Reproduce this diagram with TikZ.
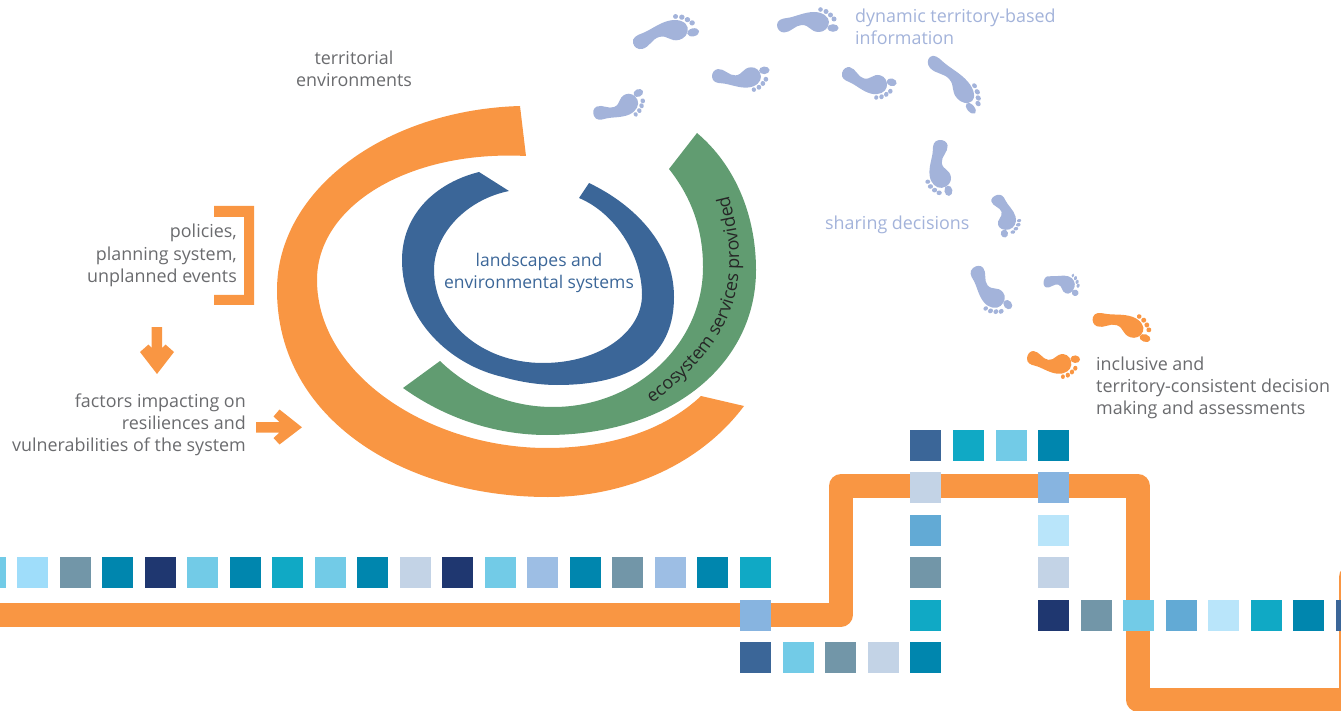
\documentclass[tikz,border=0pt]{standalone}
\usepackage{fontspec}
\setmainfont{Open Sans}
\usetikzlibrary{decorations.text}
\definecolor{ribbon}{HTML}{F99643}
\definecolor{ringgreen}{HTML}{619C71}
\definecolor{ringblue}{HTML}{3B6698}
\definecolor{footblue}{HTML}{A3B3DA}
\definecolor{greytext}{HTML}{6A6B6E}
\definecolor{tdark}{HTML}{1F3770}
\definecolor{tdeep}{HTML}{0086AE}
\definecolor{tteal}{HTML}{10A9C5}
\definecolor{tsky}{HTML}{72CBE7}
\definecolor{tpale}{HTML}{B9E5FA}
\definecolor{tbaby}{HTML}{9FDDFA}
\definecolor{tslate}{HTML}{7296A8}
\definecolor{tmist}{HTML}{C3D3E6}
\definecolor{tmid}{HTML}{62AAD5}
\definecolor{tperi}{HTML}{87B4E0}
\definecolor{tlav}{HTML}{9DBEE4}
\tikzset{
	tile/.style = {
		rectangle,
		inner sep = 0pt,
		minimum size = 31pt
	},
	caption/.style = {
		inner sep = 0pt,
		text = greytext,
		font = \fontsize{17.9}{22.3}\selectfont
	},
	pics/foot/.style = {
		code = {
			\fill (0,0) .. controls (0,-5) and (5,-6.5) .. (10,-7)
				.. controls (18,-8) and (27,-13) .. (37,-13)
				.. controls (46,-13) and (52,-8) .. (52,-3)
				.. controls (52,3) and (47,7) .. (42,7)
				.. controls (33,7) and (33,0) .. (25,0)
				.. controls (18,0) and (14,7.5) .. (7,7.5)
				.. controls (3,7.5) and (0,4) .. (0,0) -- cycle ;
			\fill (56,3) ellipse [x radius = 5.6, y radius = 3.8] ;
			\fill (43.5,-15.5) circle [radius = 2.3] ;
			\fill (49,-13.5) circle [radius = 2.5] ;
			\fill (53.5,-10) circle [radius = 2.5] ;
			\fill (57,-6) circle [radius = 2.5] ;
		}
	}
}

\begin{document}
\begin{tikzpicture}[x=1pt, y=-1pt]
    \useasboundingbox (0,0) rectangle (1341,711) ;

    % rings
    \fill [ribbon] (520,106) .. controls (385,110) and (277,190) .. (277,290)
        .. controls (277,420) and (405,497) .. (548,497)
        .. controls (625,497) and (700,465) .. (744,406) -- (701,396)
        .. controls (665,430) and (610,448) .. (547,448)
        .. controls (430,448) and (317,375) .. (317,280)
        .. controls (317,205) and (410,150) .. (526,156) -- cycle ;
    \fill [ringgreen] (697,133) .. controls (735,165) and (756,215) .. (756,270)
        .. controls (756,365) and (670,435) .. (547,435)
        .. controls (495,435) and (445,418) .. (403,388) -- (440,361)
        .. controls (470,390) and (510,407) .. (553,407)
        .. controls (635,407) and (703,345) .. (703,267)
        .. controls (703,230) and (692,198) .. (669,169) -- cycle ;
    \fill [ringblue] (479,172) .. controls (435,183) and (402,215) .. (402,260)
        .. controls (402,320) and (450,365) .. (503,377)
        .. controls (520,382) and (540,385) .. (557,385)
        .. controls (640,385) and (674,350) .. (674,297)
        .. controls (674,245) and (635,205) .. (589,183) -- (579,198)
        .. controls (615,213) and (642,255) .. (642,295)
        .. controls (642,332) and (600,363) .. (543,363)
        .. controls (480,363) and (434,320) .. (434,270)
        .. controls (434,235) and (465,200) .. (509,191) -- cycle ;
    \path [decorate, decoration = {text along path, text align = left,
        text = {|\fontsize{18}{17}\selectfont\color{black!85}|ecosystem services provided}}]
        (652,403) .. controls (705,365) and (738,320) .. (739,265)
        .. controls (740,240) and (735,220) .. (725,180) ;

    % captions
    \node [caption, align = center] (territorial) at (354,68.5) {territorial\\environments} ;
    \node [caption, align = right, anchor = east] (policies) at (237,255.5) {policies,\\planning system,\\unplanned events} ;
    \node [caption, align = right, anchor = east] (factors) at (246,425) {factors impacting on\\resiliences and\\vulnerabilities of the system} ;
    \node [caption, align = center, text = ringblue, font = \fontsize{17.5}{22.3}\selectfont] (landscapes) at (539,273) {landscapes and\\environmental systems} ;
    \node [caption, align = left, anchor = west, text = footblue] (dynamic) at (855,26.5) {dynamic territory-based\\information} ;
    \node [caption, anchor = west, text = footblue] (sharing) at (825,225) {sharing decisions} ;
    \node [caption, align = left, anchor = west] (inclusive) at (1096,388) {inclusive and\\territory-consistent decision\\making and assessments} ;

    % bracket and arrows
    \fill [ribbon] (214,206) -- (254,206) -- (254,305) -- (214,305) -- (214,295) -- (244,295) -- (244,217) -- (214,217) -- cycle ;
    \fill [ribbon] (151.7,327) -- (162,327) -- (162,348) -- (165.5,344.5) -- (174,352) -- (157,374) -- (140,352) -- (148.5,344.5) -- (151.7,348) -- cycle ;
    \fill [ribbon] (256,422) -- (279.5,422) -- (273.5,416.5) -- (279.5,409.5) -- (302,427.3) -- (279.5,444.5) -- (273.5,438) -- (279.5,432.5) -- (256,432.5) -- cycle ;

    % footprints
    \foreach \x/\y/\r/\s/\w/\c in {
        633/43/13/1.09/1.05/footblue, 777/25/0/1/1/footblue, 594/116/24/.89/-1/footblue,
        712/77/4/.94/-1/footblue, 842/73/-14/.9/-1/footblue, 930/57/-49/1.17/.95/footblue,
        939/140/-83/.92/-1.05/footblue, 997/195/-75/.7/.95/footblue, 973/268/-50/.9/-1.05/footblue,
        1044/280/-18/.6/.85/footblue, 1093/317/-19/1/1/ribbon, 1027/358/-5/.86/-1/ribbon}
        \pic [fill = \c, rotate = \r, xscale = \s, yscale = \w] at (\x,\y) {foot} ;

    % orange line
    \draw [ribbon, line width = 24pt, line join = round] (-20,614.5) -- (841,614.5) -- (841,486) -- (1138,486)
        -- (1138,699.5) -- (1351,699.5) -- (1351,577) -- (1380,577) ;

    % tiles
    \foreach \x/\c [count=\i] in {-25.5/tsky, 17/tbaby, 59.5/tslate, 102/tdeep, 144.5/tdark, 187/tsky,
        229.5/tdeep, 272/tteal, 314.5/tsky, 357/tdeep, 399.5/tmist, 442/tdark, 484.5/tsky, 527/tlav,
        569.5/tdeep, 612/tslate, 654.5/tlav, 697/tdeep, 740/tteal}
        \node [tile, anchor = north west, fill = \c] (long\i) at (\x,557) {} ;
    \foreach \x/\c [count=\i] in {910/ringblue, 953/tteal, 996/tsky, 1038/tdeep}
        \node [tile, anchor = north west, fill = \c] (top\i) at (\x,430) {} ;
    \foreach \y/\c [count=\i] in {472/tmist, 515/tmid, 557/tslate, 600/tteal}
        \node [tile, anchor = north west, fill = \c] (left\i) at (910,\y) {} ;
    \foreach \y/\c [count=\i] in {472/tperi, 515/tpale, 557/tmist}
        \node [tile, anchor = north west, fill = \c] (right\i) at (1038,\y) {} ;
    \foreach \x/\c [count=\i] in {1038/tdark, 1080.5/tslate, 1123/tsky, 1165.5/tmid, 1208/tpale, 1250.5/tteal, 1293/tdeep, 1336/ringblue}
        \node [tile, anchor = north west, fill = \c] (mid\i) at (\x,600) {} ;
    \foreach \x/\c [count=\i] in {740/ringblue, 783/tsky, 825/tslate, 868/tmist, 910/tdeep}
        \node [tile, anchor = north west, fill = \c] (low\i) at (\x,642) {} ;
    \node [tile, anchor = north west, fill = tperi] (cross) at (740,600) {} ;
\end{tikzpicture}
\end{document}
